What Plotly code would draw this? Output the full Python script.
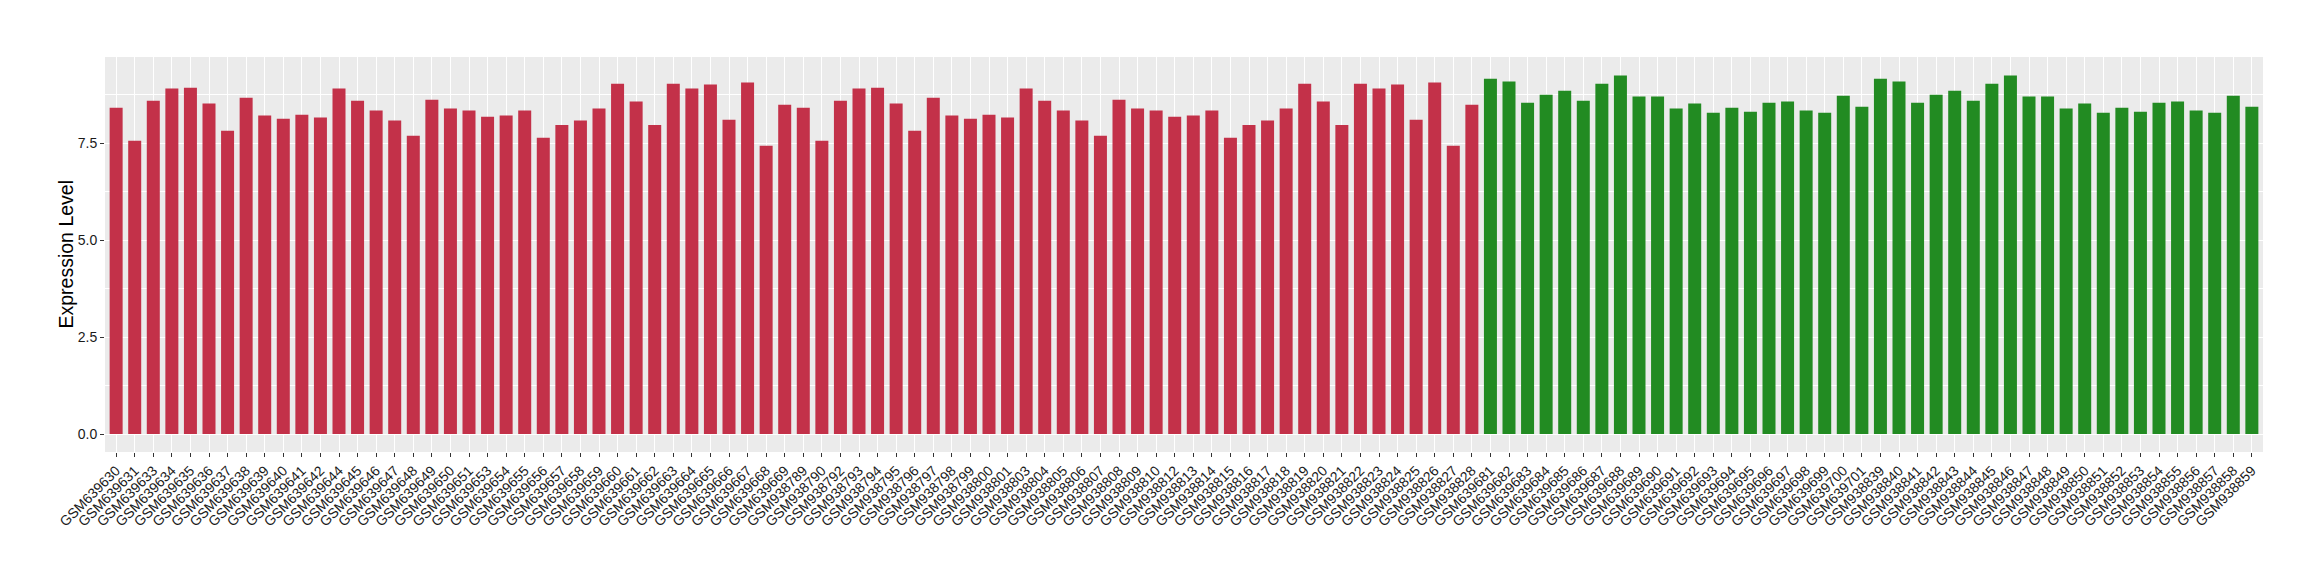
import plotly.graph_objects as go

samples_red = [
    "GSM639630", "GSM639631", "GSM639633", "GSM639634", "GSM639635", "GSM639636", "GSM639637", "GSM639638",
    "GSM639639", "GSM639640", "GSM639641", "GSM639642", "GSM639644", "GSM639645", "GSM639646", "GSM639647",
    "GSM639648", "GSM639649", "GSM639650", "GSM639651", "GSM639653", "GSM639654", "GSM639655", "GSM639656",
    "GSM639657", "GSM639658", "GSM639659", "GSM639660", "GSM639661", "GSM639662", "GSM639663", "GSM639664",
    "GSM639665", "GSM639666", "GSM639667", "GSM639668", "GSM639669",
    "GSM938789", "GSM938790", "GSM938792", "GSM938793", "GSM938794", "GSM938795", "GSM938796", "GSM938797",
    "GSM938798", "GSM938799", "GSM938800", "GSM938801", "GSM938803", "GSM938804", "GSM938805", "GSM938806",
    "GSM938807", "GSM938808", "GSM938809", "GSM938810", "GSM938812", "GSM938813", "GSM938814", "GSM938815",
    "GSM938816", "GSM938817", "GSM938818", "GSM938819", "GSM938820", "GSM938821", "GSM938822", "GSM938823",
    "GSM938824", "GSM938825", "GSM938826", "GSM938827", "GSM938828",
]
values_red = [
    8.41, 7.56, 8.59, 8.91, 8.93, 8.52, 7.82, 8.67, 8.21, 8.13, 8.23, 8.16, 8.91, 8.59, 8.34, 8.08,
    7.69, 8.62, 8.39, 8.34, 8.18, 8.21, 8.34, 7.64, 7.97, 8.08, 8.39, 9.03, 8.57, 7.97, 9.03, 8.91,
    9.01, 8.10, 9.06, 7.43, 8.49,
    8.41, 7.56, 8.59, 8.91, 8.93, 8.52, 7.82, 8.67, 8.21, 8.13, 8.23, 8.16, 8.91, 8.59, 8.34, 8.08,
    7.69, 8.62, 8.39, 8.34, 8.18, 8.21, 8.34, 7.64, 7.97, 8.08, 8.39, 9.03, 8.57, 7.97, 9.03, 8.91,
    9.01, 8.10, 9.06, 7.43, 8.49,
]

samples_green = [
    "GSM639681", "GSM639682", "GSM639683", "GSM639684", "GSM639685", "GSM639686", "GSM639687", "GSM639688",
    "GSM639689", "GSM639690", "GSM639691", "GSM639692", "GSM639693", "GSM639694", "GSM639695", "GSM639696",
    "GSM639697", "GSM639698", "GSM639699", "GSM639700", "GSM639701",
    "GSM938839", "GSM938840", "GSM938841", "GSM938842", "GSM938843", "GSM938844", "GSM938845", "GSM938846",
    "GSM938847", "GSM938848", "GSM938849", "GSM938850", "GSM938851", "GSM938852", "GSM938853", "GSM938854",
    "GSM938855", "GSM938856", "GSM938857", "GSM938858", "GSM938859",
]
values_green = [
    9.16, 9.09, 8.54, 8.75, 8.85, 8.59, 9.03, 9.24, 8.70, 8.70, 8.39, 8.52, 8.28, 8.41, 8.31, 8.54,
    8.57, 8.34, 8.28, 8.72, 8.44,
    9.16, 9.09, 8.54, 8.75, 8.85, 8.59, 9.03, 9.24, 8.70, 8.70, 8.39, 8.52, 8.28, 8.41, 8.31, 8.54,
    8.57, 8.34, 8.28, 8.72, 8.44,
]

y_ticks = [0.0, 2.5, 5.0, 7.5]
y_title = "Expression Level"

RED = "#C33149"
GREEN = "#228B22"
FONT = "Liberation Sans, Arial, Helvetica, sans-serif"

fig = go.Figure()
fig.add_trace(go.Bar(x=samples_red, y=values_red, marker=dict(color=RED, line=dict(width=0)), showlegend=False))
fig.add_trace(go.Bar(x=samples_green, y=values_green, marker=dict(color=GREEN, line=dict(width=0)), showlegend=False))

all_samples = samples_red + samples_green

fig.update_layout(
    template="none",
    width=2320, height=580,
    margin=dict(l=97, r=65, t=49, b=136, autoexpand=False),
    paper_bgcolor="white",
    plot_bgcolor="#EBEBEB",
    bargap=0.3,
    font=dict(family=FONT, color="#1a1a1a", size=14),
    xaxis=dict(
        type="category",
        categoryorder="array",
        categoryarray=all_samples,
        range=[-0.6, len(all_samples) - 0.4],
        tickangle=-45,
        automargin=False,
        showgrid=True, gridcolor="white", gridwidth=1.1,
        ticks="outside", ticklen=4, tickcolor="#333333", tickwidth=1,
        tickfont=dict(family=FONT, size=14, color="#1a1a1a"),
        showline=False, zeroline=False,
    ),
    yaxis=dict(
        range=[-0.463, 9.72],
        tickvals=y_ticks,
        ticktext=[f"{v:.1f}" for v in y_ticks],
        automargin=False,
        showgrid=True, gridcolor="white", gridwidth=1.1,
        minor=dict(tick0=0, dtick=1.25, showgrid=True, gridcolor="white", gridwidth=0.55, ticks=""),
        ticks="outside", ticklen=4, tickcolor="#333333", tickwidth=1,
        tickfont=dict(family=FONT, size=14, color="#1a1a1a"),
        showline=False, zeroline=False,
    ),
    annotations=[dict(
        text=y_title, textangle=-90, xref="paper", yref="paper",
        x=(65 - 105) / 2158, y=0.5, xanchor="center", yanchor="middle",
        showarrow=False, font=dict(family=FONT, size=19.5, color="black"),
    )],
)

fig.write_html("out.html")
